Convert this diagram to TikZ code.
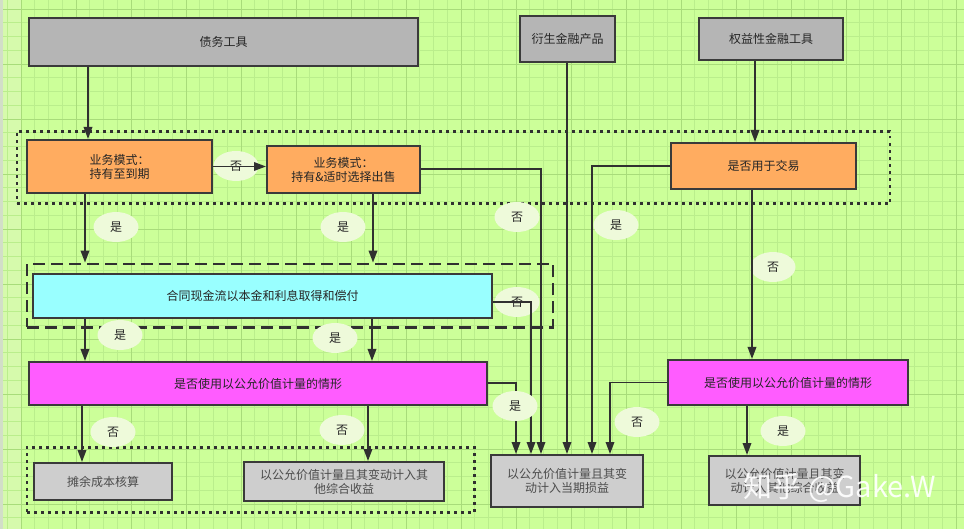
\documentclass[tikz,border=0pt]{standalone}
\usepackage{fontspec}
\newfontfamily\cjk{Noto Sans CJK SC}
\usetikzlibrary{arrows.meta,shapes.geometric}
\definecolor{bgc}{RGB}{204,255,153}
\definecolor{minorc}{RGB}{186,238,140}
\definecolor{majorc}{RGB}{168,220,122}
\definecolor{stripc}{RGB}{214,250,172}
\definecolor{edgec}{RGB}{210,222,200}
\definecolor{linec}{RGB}{48,48,48}
\definecolor{bordc}{RGB}{58,58,58}
\definecolor{greytop}{RGB}{181,181,181}
\definecolor{greybot}{RGB}{206,206,206}
\definecolor{orangec}{RGB}{255,172,96}
\definecolor{cyanc}{RGB}{153,255,255}
\definecolor{magc}{RGB}{255,92,255}
\definecolor{lblc}{RGB}{238,250,218}
\tikzset{
  box/.style={draw=bordc, line width=2pt, inner sep=2pt, align=center,
    font=\cjk\fontsize{12}{14}\selectfont, text=black!85},
  topgrey/.style={box, fill=greytop},
  botgrey/.style={box, fill=greybot, text=black!70},
  orangebox/.style={box, fill=orangec},
  cyanbox/.style={box, fill=cyanc},
  magbox/.style={box, fill=magc},
  dotbox/.style={draw=linec, line width=2.6pt, dash pattern=on 2.6pt off 4.4pt, fill=none, inner sep=0},
  dashbox/.style={draw=linec, line width=2.8pt, dash pattern=on 12pt off 6pt, fill=none, inner sep=0},
  arr/.style={draw=linec, line width=1.8pt, -{Triangle[width=8.5pt,length=12pt]}},
  lbl/.style={ellipse, fill=lblc, minimum width=45pt, minimum height=30pt, inner sep=0,
    font=\cjk\fontsize{12}{14}\selectfont, text=black!85}
}
\begin{document}
\begin{tikzpicture}[x=1pt,y=-1pt]
\useasboundingbox (0,0) rectangle (964,529);
% background and grid
\fill[bgc] (0,0) rectangle (964,529);
\fill[stripc] (0,0) rectangle (21,529);
\fill[edgec] (0,0) rectangle (3,529);
\foreach \i in {0,...,69} {
  \draw[minorc, line width=0.6pt] ({7.25+13.75*\i},0) -- ({7.25+13.75*\i},529);
}
\foreach \i in {0,...,39} {
  \draw[minorc, line width=0.6pt] (3,{-4.75+13.75*\i}) -- (964,{-4.75+13.75*\i});
}
\foreach \i in {0,...,17} {
  \draw[majorc, line width=0.8pt] ({21+55*\i},0) -- ({21+55*\i},529);
}
\foreach \i in {0,...,9} {
  \draw[majorc, line width=0.8pt] (3,{9+55*\i}) -- (964,{9+55*\i});
}
% group frames
\node[dotbox, minimum width=873pt, minimum height=72pt] (grp1) at (453.5,167.5) {};
\node[dashbox, minimum width=526pt, minimum height=63.5pt] (dbox) at (290,295.75) {};
\node[dotbox, minimum width=447.5pt, minimum height=65pt] (grp3) at (250.75,480) {};
% nodes
\node[topgrey, minimum width=389pt, minimum height=48pt] (debt) at (223.5,42) {债务工具};
\node[topgrey, minimum width=95pt, minimum height=46pt] (deriv) at (567.5,39) {衍生金融产品};
\node[topgrey, minimum width=144pt, minimum height=42pt] (equity) at (771,39) {权益性金融工具};
\node[orangebox, minimum width=185pt, minimum height=53pt] (bm1) at (119.5,166.5) {业务模式：\\持有至到期};
\node[orangebox, minimum width=153pt, minimum height=47pt] (bm2) at (343.5,169.5) {业务模式：\\持有\&适时选择出售};
\node[orangebox, minimum width=185pt, minimum height=46pt] (trade) at (763.5,166) {是否用于交易};
\node[cyanbox, minimum width=459pt, minimum height=44pt] (cash) at (262.5,296) {合同现金流以本金和利息取得和偿付};
\node[magbox, minimum width=458pt, minimum height=43pt] (fv1) at (258,383.5) {是否使用以公允价值计量的情形};
\node[magbox, minimum width=240pt, minimum height=45pt] (fv2) at (788,382.5) {是否使用以公允价值计量的情形};
\node[botgrey, minimum width=138pt, minimum height=37pt] (amort) at (103,481.5) {摊余成本核算};
\node[botgrey, minimum width=200pt, minimum height=39pt] (oci) at (344,481.5) {以公允价值计量且其变动计入其\\他综合收益};
\node[botgrey, minimum width=152pt, minimum height=52pt] (pl) at (567,481) {以公允价值计量且其变\\动计入当期损益};
\node[botgrey, minimum width=151pt, minimum height=49pt] (oci2) at (784.5,480.5) {以公允价值计量且其变\\动计入其他综合收益};
% labels under connectors
\node[lbl] (l1) at (236,166) {否};
\node[lbl] (l2) at (116,227) {是};
\node[lbl] (l3) at (343,227) {是};
\node[lbl] (l4) at (517,217) {否};
\node[lbl] (l5) at (616,225) {是};
\node[lbl] (l6) at (773,267) {否};
\node[lbl] (l7) at (517,302) {否};
\node[lbl] (l8) at (120,335) {是};
\node[lbl] (l9) at (335,338) {是};
\node[lbl] (l11) at (637,422) {否};
\node[lbl] (l12) at (113,432) {否};
\node[lbl] (l13) at (342,430) {否};
\node[lbl] (l14) at (783,431) {是};
% connectors
\draw[arr] (debt.south -| 88,0) -- (bm1.north -| 88,0);
\draw[arr] (bm1.east) -- (bm1.east -| bm2.west);
\draw[arr] (bm1.south -| 85,0) -- (dbox.north -| 85,0);
\draw[arr] (bm2.south -| 373,0) -- (dbox.north -| 373,0);
\draw[arr] (bm2.east |- 0,169) -| (pl.north -| 541,0);
\draw[arr] (deriv.south -| 567,0) -- (pl.north -| 567,0);
\draw[arr] (trade.west) -| (pl.north -| 592,0);
\draw[arr] (equity.south -| 755,0) -- (trade.north -| 755,0);
\draw[arr] (trade.south -| 752,0) -- (fv2.north -| 752,0);
\draw[arr] (cash.east |- 0,302) -| (pl.north -| 531,0);
\draw[arr] (cash.south -| 85,0) -- (fv1.north -| 85,0);
\draw[arr] (cash.south -| 372,0) -- (fv1.north -| 372,0);
\draw[arr] (fv1.east |- 0,383) -| (pl.north -| 516,0);
\draw[arr] (fv2.west) -| (pl.north -| 610,0);
\draw[arr] (fv1.south -| 82,0) -- (amort.north -| 82,0);
\draw[arr] (fv1.south -| 368,0) -- (oci.north -| 368,0);
\draw[arr] (fv2.south -| 747,0) -- (oci2.north -| 747,0);
% label over its connector
\node[lbl] (l10) at (515,406) {是};
% watermark
\node[font=\cjk\fontsize{29}{31}\selectfont, text=white, opacity=0.92, inner sep=0] (wm) at (840,488) {知乎 @Gake.W};
\end{tikzpicture}
\end{document}
